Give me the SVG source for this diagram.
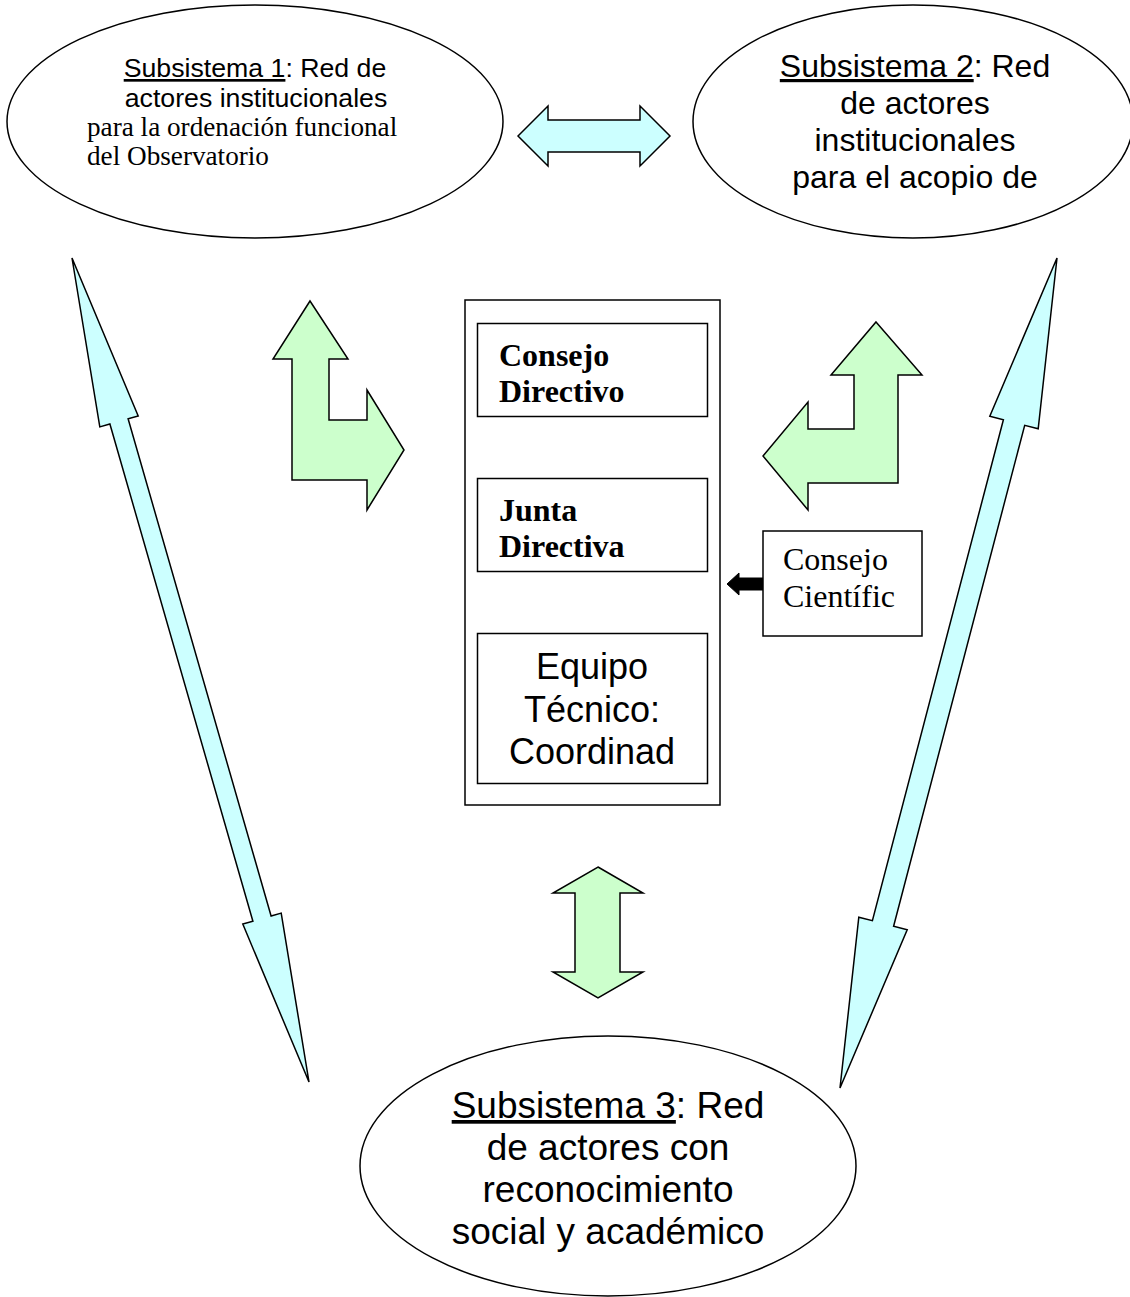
<svg xmlns="http://www.w3.org/2000/svg" width="1130" height="1297" viewBox="0 0 1130 1297">
<style>
.shape{fill:#fff;stroke:#000;stroke-width:1.5}
.cyan{fill:#CCFFFF;stroke:#000;stroke-width:1.5;stroke-linejoin:miter}
.green{fill:#CCFFCC;stroke:#000;stroke-width:1.5;stroke-linejoin:miter}
.arial{font-family:"Liberation Sans",Arial,sans-serif;fill:#000}
.times{font-family:"Liberation Serif","Times New Roman",serif;fill:#000}
.b{font-weight:bold}
.u{text-decoration:underline}
</style>
<rect width="1130" height="1297" fill="#fff"/>

<g id="connectors">
  <polygon class="cyan" points="518,136 548,106 548,120 640,120 640,106 670,136 640,166 640,152 548,152 548,166"/>
  <polygon class="cyan" points="72,258 138.2,415.9 128.1,418.8 271.1,916.0 281.2,913.1 309,1082 242.8,924.1 252.9,921.2 109.9,424.0 99.8,426.9"/>
  <polygon class="cyan" points="1057,258 1038.2,428.8 1024.7,425.3 893.6,926.3 907.2,929.8 840,1088 858.8,917.2 872.4,920.7 1003.4,419.7 989.8,416.2"/>
  <polygon class="green" points="310,301 348,359 329,359 329,420 367,420 367,390 404,450 367,510 367,480 292,480 292,359 273,359"/>
  <polygon class="green" points="876,322 922,375 898,375 898,483 808,483 808,510 763,456 808,402 808,429 854,429 854,375 831,375"/>
  <polygon class="green" points="598,867 643,893 620,893 620,972 643,972 598,998 553,972 575,972 575,893 553,893"/>
  <polygon fill="#000" stroke="#000" stroke-width="1" stroke-linejoin="round" points="727,584 739,573 739,578 763,578 763,590 739,590 739,595"/>
</g>

<g id="subsistema1">
  <ellipse class="shape" cx="255" cy="121.5" rx="248" ry="116.5"/>
  <text class="arial" font-size="26.7" text-anchor="middle" x="255" y="77"><tspan class="u">Subsistema 1</tspan>: Red de</text>
  <text class="arial" font-size="26.7" text-anchor="middle" x="256" y="107">actores institucionales</text>
  <text class="times" font-size="27.2" x="87" y="136">para la ordenación funcional</text>
  <text class="times" font-size="27.2" x="87" y="165">del Observatorio</text>
</g>

<g id="subsistema2">
  <ellipse class="shape" cx="913" cy="121.5" rx="220" ry="116.5"/>
  <text class="arial" font-size="32" text-anchor="middle" x="915" y="77"><tspan class="u">Subsistema 2</tspan>: Red</text>
  <text class="arial" font-size="32" text-anchor="middle" x="915" y="114">de actores</text>
  <text class="arial" font-size="32" text-anchor="middle" x="915" y="151">institucionales</text>
  <text class="arial" font-size="32" text-anchor="middle" x="915" y="188">para el acopio de</text>
</g>

<g id="subsistema3">
  <ellipse class="shape" cx="608" cy="1166" rx="248" ry="130"/>
  <text class="arial" font-size="37" text-anchor="middle" x="608" y="1118"><tspan class="u">Subsistema 3</tspan>: Red</text>
  <text class="arial" font-size="37" text-anchor="middle" x="608" y="1160">de actores con</text>
  <text class="arial" font-size="37" text-anchor="middle" x="608" y="1202">reconocimiento</text>
  <text class="arial" font-size="37" text-anchor="middle" x="608" y="1244">social y académico</text>
</g>

<g id="organo">
  <rect class="shape" x="465" y="300" width="255" height="505"/>
</g>

<g id="consejo-directivo">
  <rect class="shape" x="477.5" y="323.5" width="230" height="93"/>
  <text class="times b" font-size="32" x="499" y="366">Consejo</text>
  <text class="times b" font-size="32" x="499" y="402">Directivo</text>
</g>

<g id="junta-directiva">
  <rect class="shape" x="477.5" y="478.5" width="230" height="93"/>
  <text class="times b" font-size="32" x="499" y="521">Junta</text>
  <text class="times b" font-size="32" x="499" y="557">Directiva</text>
</g>

<g id="equipo-tecnico">
  <rect class="shape" x="477.5" y="633.5" width="230" height="150"/>
  <text class="arial" font-size="36" text-anchor="middle" x="592" y="679">Equipo</text>
  <text class="arial" font-size="36" text-anchor="middle" x="592" y="722">Técnico:</text>
  <text class="arial" font-size="36" text-anchor="middle" x="592" y="764">Coordinad</text>
</g>

<g id="consejo-cientifico">
  <rect class="shape" x="763" y="531" width="159" height="105"/>
  <text class="times" font-size="32" x="783" y="570">Consejo</text>
  <text class="times" font-size="32" x="783" y="607">Científic</text>
</g>
</svg>
